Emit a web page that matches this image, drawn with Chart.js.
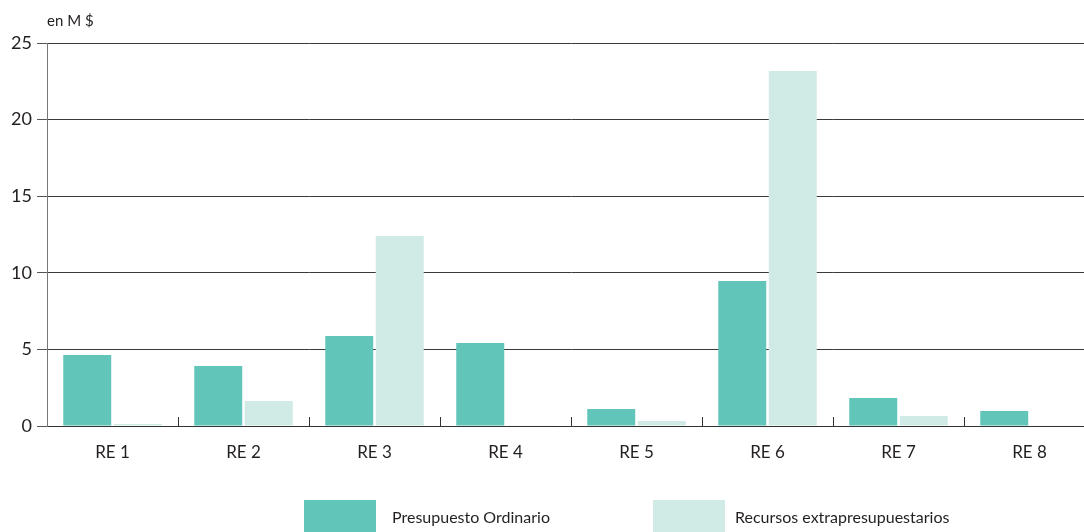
<!DOCTYPE html>
<html>
<head>
<meta charset="utf-8">
<script src="https://cdn.jsdelivr.net/npm/chart.js@4/dist/chart.umd.min.js"></script>
<style>
  html, body { margin: 0; padding: 0; width: 1084px; height: 532px; overflow: hidden; background: #fff; }
  #wrap { position: relative; width: 1096px; height: 545px; }
  #legend { position: absolute; left: 0; top: 0; width: 1084px; height: 532px; pointer-events: none; font-family: Lato, "Open Sans", sans-serif; font-size: 16px; color: #231f20; }
  .lg-box { position: absolute; top: 500px; width: 72px; height: 34px; }
  .lg-txt { position: absolute; top: 507px; line-height: 20px; white-space: nowrap; }
</style>
</head>
<body>
<div id="wrap">
  <canvas id="c" width="1096" height="545"></canvas>
  <div id="legend"></div>
</div>
<script>
// Regions and amounts (millions of dollars)
const categories = ['RE 1', 'RE 2', 'RE 3', 'RE 4', 'RE 5', 'RE 6', 'RE 7', 'RE 8'];
const presupuestoOrdinario = [4.63, 3.92, 5.87, 5.42, 1.11, 9.46, 1.83, 0.98];
const recursosExtra = [0.13, 1.63, 12.4, 0.05, 0.33, 23.17, 0.65, 0.05];
const seriesNames = ['Presupuesto Ordinario', 'Recursos extrapresupuestarios'];
const seriesColors = ['#61c5b9', '#d0eae6'];
const yTicks = [0, 5, 10, 15, 20, 25];
const unitLabel = 'en M $';

const FONT = 'Lato, "Open Sans", sans-serif';
const TEXT = '#231f20';

// Unit caption above the value axis and small inward category ticks on the base axis
const decorations = {
  id: 'decorations',
  afterDraw(chart) {
    const { ctx, scales: { x, y } } = chart;
    ctx.save();
    ctx.fillStyle = TEXT;
    ctx.font = '15px ' + FONT;
    ctx.textBaseline = 'alphabetic';
    ctx.textAlign = 'left';
    ctx.fillText(unitLabel, x.left, y.top - 17);

    const half = (x.getPixelForValue(1) - x.getPixelForValue(0)) / 2;
    ctx.strokeStyle = '#333';
    ctx.lineWidth = 1;
    ctx.beginPath();
    for (let i = 1; i < categories.length; i++) {
      const px = Math.round(x.getPixelForValue(i) - half) + 0.5;
      ctx.moveTo(px, y.bottom);
      ctx.lineTo(px, y.bottom - 9);
    }
    ctx.stroke();
    ctx.restore();
  }
};

const chart = new Chart(document.getElementById('c'), {
  type: 'bar',
  data: {
    labels: categories,
    datasets: [
      { label: seriesNames[0], data: presupuestoOrdinario, backgroundColor: seriesColors[0] },
      { label: seriesNames[1], data: recursosExtra, backgroundColor: seriesColors[1] }
    ]
  },
  options: {
    responsive: false,
    animation: false,
    devicePixelRatio: 1,
    layout: { padding: { top: 43, left: 0, right: 1, bottom: 0 } },
    datasets: { bar: { categoryPercentage: 0.771, barPercentage: 0.95 } },
    plugins: {
      legend: { display: false },
      tooltip: { enabled: false },
      title: { display: false }
    },
    scales: {
      x: {
        grid: { display: false, drawTicks: false },
        border: { display: true, color: '#333', width: 1 },
        ticks: { color: TEXT, font: { family: FONT, size: 17 }, padding: 16 },
        afterFit(s) { s.height = 119; }
      },
      y: {
        min: 0,
        max: 25,
        afterBuildTicks(s) { s.ticks = yTicks.map(v => ({ value: v })); },
        grid: { color: '#3a3a3a', lineWidth: 1, tickLength: 10, tickColor: '#555' },
        border: { display: true, color: '#777', width: 1 },
        ticks: { color: TEXT, font: { family: FONT, size: 18 }, padding: 5 },
        afterFit(s) { s.width = 47; }
      }
    }
  },
  plugins: [decorations]
});

// Legend built from the dataset names and colours
const legend = document.getElementById('legend');
const legendPos = [{ box: 304, text: 392 }, { box: 653, text: 735 }];
chart.data.datasets.forEach((ds, i) => {
  const b = document.createElement('div');
  b.className = 'lg-box';
  b.style.left = legendPos[i].box + 'px';
  b.style.background = ds.backgroundColor;
  const t = document.createElement('div');
  t.className = 'lg-txt';
  t.style.left = legendPos[i].text + 'px';
  t.textContent = ds.label;
  legend.appendChild(b);
  legend.appendChild(t);
});
</script>
</body>
</html>
